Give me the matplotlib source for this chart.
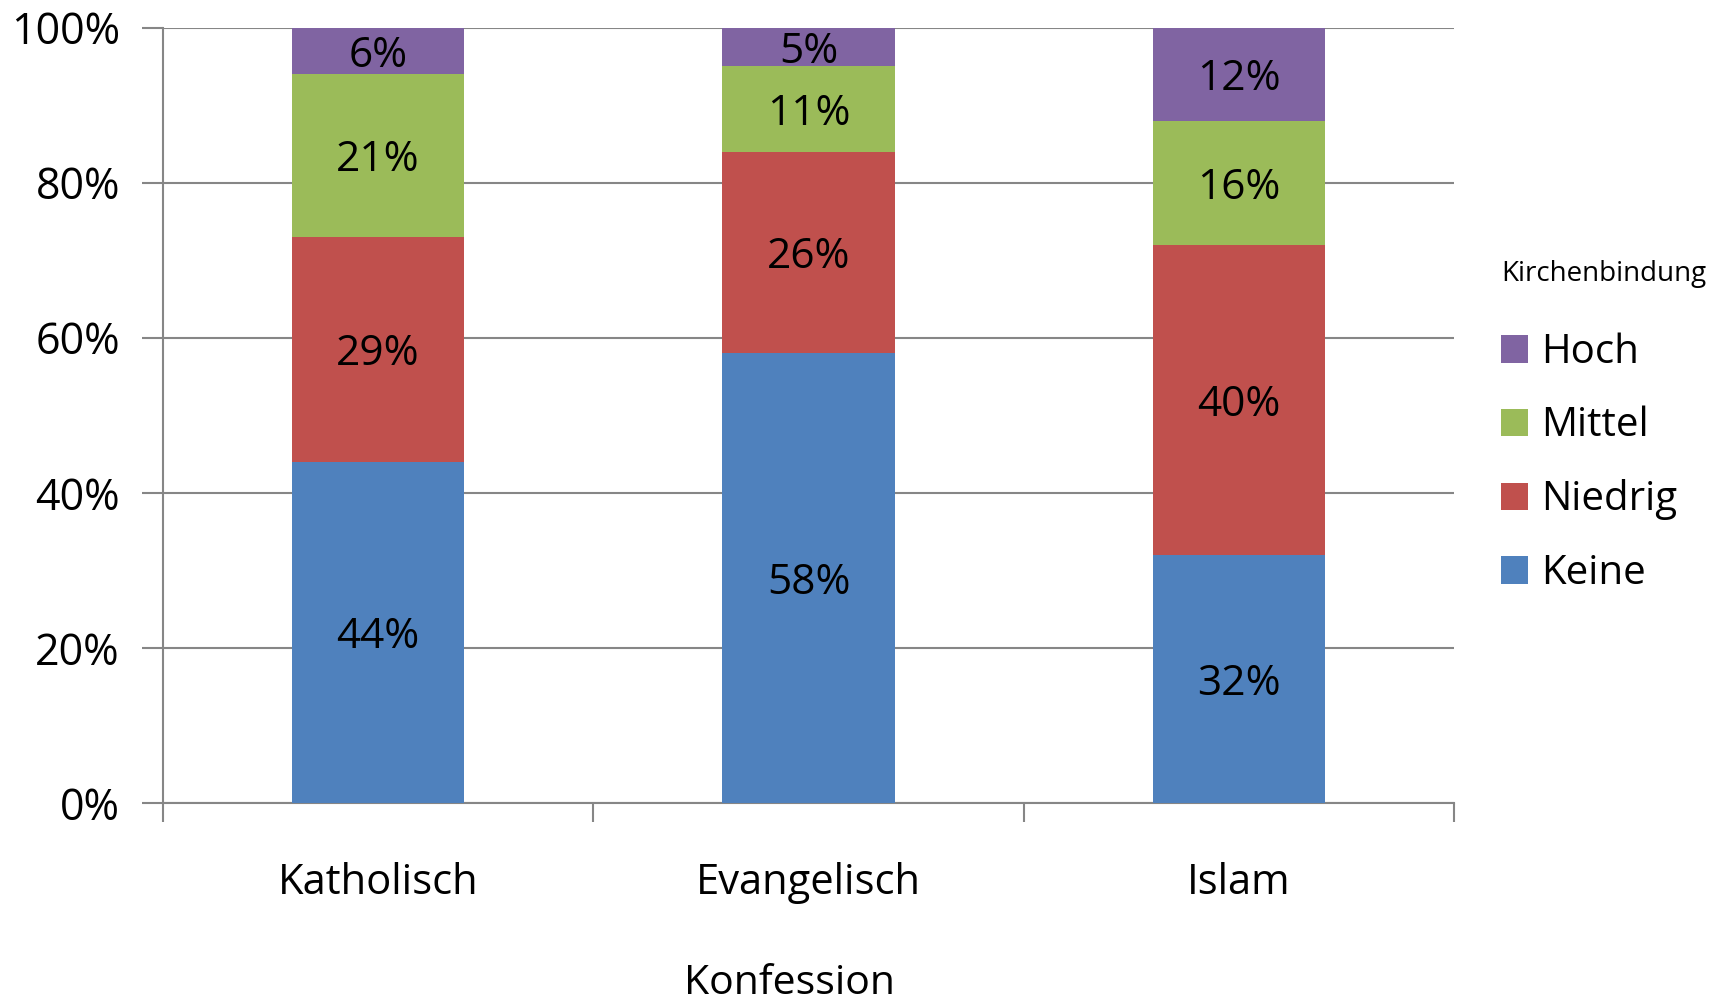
#stacked 100% bars - Kirchenbindung nach Konfession
import numpy as np
import matplotlib.pyplot as plt
#
plt.rcParams['font.family'] = ['Open Sans', 'DejaVu Sans']
konfession = ['Katholisch', 'Evangelisch', 'Islam']
stufen = ['Keine', 'Niedrig', 'Mittel', 'Hoch']
keine = [44, 58, 32]
niedrig = [29, 26, 40]
mittel = [21, 11, 16]
hoch = [6, 5, 12]
farben = ['#4F81BD', '#C0504D', '#9BBB59', '#8064A2']
grau = '#868686'

fig = plt.figure(figsize=(17.23, 10.01), dpi=100)
ax = fig.add_axes([0.0946, 0.1978, 0.7493, 0.7747])
x = np.arange(len(konfession))
unten = np.zeros(len(konfession))
handles = []
for name, werte, farbe in zip(stufen, [keine, niedrig, mittel, hoch], farben):
    werte = np.array(werte, dtype=float)
    b = ax.bar(x, werte, 0.4, bottom=unten, color=farbe, label=name, zorder=3)
    handles.append(b)
    for xi, u, w in zip(x, unten, werte):
        ax.text(xi, u + w / 2, '%d%%' % w, ha='center', va='center_baseline',
                fontsize=30.5, zorder=4)
    unten += werte

ax.set_xlim(-0.5, 2.5)
ax.set_ylim(0, 100)
ax.set_yticks(np.arange(0, 101, 20))
ax.set_yticklabels(['%d%%' % v for v in range(0, 101, 20)], fontsize=31)
ax.yaxis.grid(True, color=grau, linewidth=1.5, zorder=0)
ax.tick_params(axis='y', length=15, width=1.5, color=grau, pad=16)
ax.set_xticks([-0.5, 0.5, 1.5, 2.5])
ax.set_xticklabels([])
ax.tick_params(axis='x', length=14, width=1.5, color=grau)
for xi, k in zip(x, konfession):
    ax.text(xi, -0.1027, k, transform=ax.get_xaxis_transform(), ha='center',
            va='center', fontsize=30)
for s in ['top', 'right']:
    ax.spines[s].set_visible(False)
for s in ['left', 'bottom']:
    ax.spines[s].set_color(grau)
    ax.spines[s].set_linewidth(1.5)
fig.text(0.458, 0.007, 'Konfession', ha='center', va='baseline', fontsize=29.5)

#legend, title set separately
fig.text(0.8711, 0.7261, 'Kirchenbindung', ha='left', va='center', fontsize=20)
leg = ax.legend(handles[::-1], stufen[::-1], loc='upper left',
                bbox_to_anchor=(1.0364, 0.6068), frameon=False, fontsize=29,
                handlelength=0.67, handleheight=0.67, handletextpad=0.33,
                labelspacing=0.82, borderaxespad=0, borderpad=0)
fig.savefig('out.png', dpi=100)
